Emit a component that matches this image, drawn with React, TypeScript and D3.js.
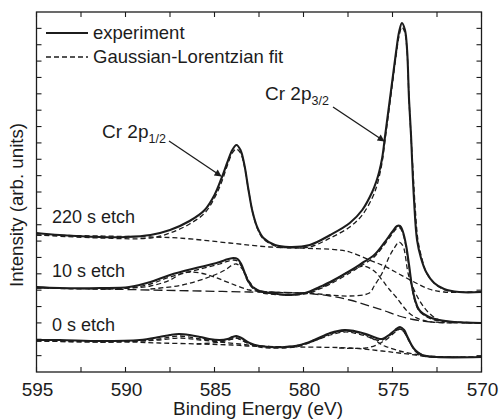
import React from 'react';
import * as d3 from 'd3';

type Pt = [number, number];

// ---------- data (binding energy eV, intensity arb. units) ----------
const exp220: Pt[] = [
  [595.0, 139], [593.7, 137], [591.4, 135], [590.0, 135], [588.6, 137], [587.5, 142], [586.4, 151],
  [585.55, 162], [585.0, 177], [584.6, 194], [584.27, 210], [584.0, 222], [583.77, 227], [583.54, 222],
  [583.32, 207], [583.09, 182], [582.86, 160], [582.58, 144], [582.25, 134], [581.6, 127], [580.8, 125],
  [579.65, 127], [578.5, 137], [577.4, 149], [576.7, 162], [576.14, 180], [575.9, 191], [575.75, 200],
  [575.58, 214], [575.41, 237], [575.24, 260], [575.02, 290], [574.8, 320], [574.63, 340], [574.47, 349],
  [574.3, 342], [574.18, 322], [574.07, 272], [573.96, 237], [573.9, 212], [573.79, 172], [573.62, 132],
  [573.4, 114], [573.11, 100], [572.66, 89], [572.1, 83], [571.26, 80], [570.0, 80],
];
const fit220: Pt[] = [
  [595.0, 137], [591.4, 134], [588.6, 134], [587.5, 139], [586.4, 148], [585.55, 159], [585.0, 174],
  [584.6, 190], [584.27, 207], [584.0, 219], [583.77, 223], [583.54, 219], [583.32, 206], [583.09, 182],
  [582.86, 160], [582.58, 143], [582.25, 133], [581.6, 126], [580.8, 124], [579.65, 125], [578.5, 134],
  [577.4, 145], [576.7, 157], [576.14, 174], [575.9, 185], [575.75, 195], [575.58, 210], [575.41, 233],
  [575.24, 256], [575.02, 286], [574.8, 316], [574.63, 336], [574.47, 345], [574.3, 339], [574.18, 320],
  [574.07, 272], [573.96, 236], [573.85, 202], [573.73, 166], [573.57, 132], [573.34, 113], [573.06, 98],
  [572.6, 88], [572.05, 82], [571.26, 80], [570.0, 80],
];
const bg220: Pt[] = [
  [595.0, 137], [591.4, 136], [588.6, 135], [587.0, 134], [584.15, 129], [581.9, 125], [580.2, 124],
  [578.0, 122], [577.4, 120], [576.3, 112], [575.47, 106], [574.63, 98], [573.79, 90], [572.95, 83],
  [572.1, 80], [570.0, 80],
];

const exp10: Pt[] = [
  [595.0, 85], [593.7, 84], [591.4, 84], [589.8, 85], [588.6, 90], [587.5, 97], [585.8, 105], [584.7, 110],
  [584.4, 112], [583.95, 114], [583.7, 113], [583.5, 108], [583.3, 99], [583.14, 92], [582.86, 85],
  [582.47, 81], [581.9, 79], [580.8, 77], [580.2, 78], [579.65, 80.5], [579.1, 85], [578.5, 90],
  [577.4, 101], [576.7, 109], [576.03, 117], [575.47, 129], [575.02, 140], [574.74, 146], [574.58, 146],
  [574.41, 140], [574.24, 127], [574.07, 107], [573.9, 85], [573.73, 72], [573.5, 62], [572.95, 55],
  [572.38, 52], [571.54, 50], [570.0, 49],
];
const fit10: Pt[] = [
  [595.0, 84], [591.4, 83], [589.8, 84], [588.6, 88], [587.5, 95], [585.8, 103], [584.7, 108],
  [584.4, 110], [583.95, 112], [583.7, 111], [583.5, 106], [583.3, 98], [583.14, 91], [582.86, 84],
  [582.47, 80], [581.9, 78], [580.8, 77], [580.2, 77.5], [579.65, 79], [579.1, 83], [578.5, 88],
  [577.4, 99], [576.7, 107], [576.03, 115], [575.47, 127], [575.02, 138], [574.74, 144], [574.58, 144],
  [574.41, 138], [574.24, 125], [574.07, 105], [573.9, 84], [573.73, 70], [573.5, 61], [572.95, 54],
  [572.38, 51], [571.54, 50], [570.0, 49],
];
const bg10: Pt[] = [
  [595.0, 84], [591.4, 83], [588.6, 82], [585.8, 81], [583.03, 80], [580.2, 79], [578.5, 76], [577.4, 72],
  [576.3, 66], [575.58, 62], [574.63, 56], [573.68, 52], [572.78, 50], [570.0, 49],
];
const c1_10: Pt[] = [
  [591.4, 83], [589.8, 84], [588.6, 86], [587.5, 92], [586.8, 99], [586.4, 100], [585.8, 99], [585.0, 95],
  [584.15, 89], [583.03, 82], [581.9, 80], [580.2, 79],
];
const c2_10: Pt[] = [
  [588.6, 83], [586.8, 87], [585.3, 95], [584.4, 102], [584.0, 107], [583.77, 108], [583.54, 105],
  [583.32, 100], [583.03, 90], [582.58, 82], [581.9, 80], [580.2, 79],
];
const c3_10: Pt[] = [
  [580.2, 79], [579.65, 80], [578.5, 89], [577.7, 98], [576.87, 105], [576.6, 106], [576.03, 101],
  [575.58, 92], [575.24, 84], [574.8, 75], [574.07, 59], [573.5, 53], [572.78, 50], [571.5, 49],
];
const c4_10: Pt[] = [
  [579.65, 79], [578.5, 77], [577.4, 76], [576.3, 79], [576.03, 86], [575.58, 99], [575.19, 115],
  [574.9, 124], [574.63, 130], [574.41, 126], [574.07, 95], [573.5, 72], [572.95, 59], [572.38, 52],
  [571.54, 50], [570.5, 49],
];

const exp0: Pt[] = [
  [595.0, 32], [593.7, 32], [591.4, 31], [589.2, 32], [588.1, 35], [587.5, 37], [587.0, 38], [586.4, 37],
  [585.8, 35], [585.3, 33], [584.7, 32], [584.27, 33], [584.0, 35], [583.77, 36], [583.49, 34], [583.03, 29],
  [582.47, 26], [581.9, 25], [581.07, 25], [580.2, 27], [579.4, 32], [578.5, 39], [577.7, 42], [577.15, 41],
  [576.5, 38], [575.9, 34], [575.58, 33], [575.19, 37], [574.85, 42], [574.58, 45], [574.35, 42],
  [574.18, 36], [573.96, 28], [573.73, 22], [573.34, 17], [572.55, 15], [570.0, 15],
];
const fit0: Pt[] = [
  [595.0, 31], [591.4, 30], [589.2, 31], [588.1, 33], [587.0, 36], [585.8, 33], [584.7, 31], [584.0, 33],
  [583.77, 34], [583.49, 32], [583.03, 28], [582.47, 25], [581.9, 24], [581.07, 24], [580.2, 26],
  [579.4, 31], [578.5, 37], [577.7, 40], [577.15, 39], [576.5, 36], [575.9, 32], [575.58, 32],
  [575.19, 36], [574.85, 41], [574.58, 43], [574.35, 40], [574.07, 31], [573.73, 21], [573.3, 16],
  [572.5, 15], [570.0, 15],
];
const bg0: Pt[] = [
  [595.0, 31], [591.4, 30], [589.8, 30], [588.1, 29], [585.8, 28], [584.0, 27], [583.03, 26], [580.2, 25],
  [577.4, 24], [575.58, 21], [574.63, 19], [573.68, 17], [572.78, 15], [570.0, 15],
];
const c1_0: Pt[] = [
  [591.4, 30], [589.2, 31], [588.1, 32], [587.0, 34], [585.8, 32], [584.7, 30], [583.6, 28], [582.5, 26],
  [581.0, 25],
];
const c2_0: Pt[] = [
  [586.0, 28], [584.7, 30], [584.0, 33], [583.77, 34], [583.4, 31], [583.0, 28], [582.5, 26], [581.5, 25],
];
const c3_0: Pt[] = [
  [581.0, 25], [580.2, 27], [579.4, 31], [578.5, 38], [577.7, 41], [577.15, 40], [576.5, 37], [575.9, 31],
  [575.58, 27], [575.3, 25], [574.6, 21], [573.8, 18], [573.0, 16], [571.5, 15],
];
const c4_0: Pt[] = [
  [578.0, 24], [576.5, 24], [575.9, 27], [575.58, 30], [575.3, 33], [574.85, 40], [574.58, 43],
  [574.35, 40], [574.07, 31], [573.73, 22], [573.3, 17], [572.5, 15], [571.0, 15],
];

const xLabelTicks = [595, 590, 585, 580, 575, 570];
const xMinorTicks = [595, 592.5, 590, 587.5, 585, 582.5, 580, 577.5, 575, 572.5, 570];
const legendLabels = ['experiment', 'Gaussian-Lorentzian fit'];
const seriesLabels = ['220 s etch', '10 s etch', '0 s etch'];
const seriesLabelY = [149, 95, 41];
const xTitle = 'Binding Energy (eV)';
const yTitle = 'Intensity (arb. units)';

// ---------- layout ----------
const W = 500;
const H = 420;
const L = 36.5;
const R = 481.5;
const T = 12;
const B = 372;
const FONT = '"Liberation Sans", Arial, Helvetica, sans-serif';
const INK = '#1c1c1c';

export default function App() {
  const x = d3.scaleLinear().domain([595, 570]).range([L, R]);
  const y = d3.scaleLinear().domain([0, 360]).range([B, T]);
  const line = d3
    .line<Pt>()
    .x((d) => x(d[0]))
    .y((d) => y(d[1]))
    .curve(d3.curveCatmullRom.alpha(0.5));
  const yTicks = d3.range(1, 22).map((i) => (i * 360) / 22);

  const dashed = (d: Pt[], key: string, dash = '5,3') => (
    <path key={key} d={line(d) || ''} fill="none" stroke={INK} strokeWidth={1.3} strokeDasharray={dash} />
  );
  const solid = (d: Pt[], key: string) => (
    <path key={key} d={line(d) || ''} fill="none" stroke={INK} strokeWidth={2.1} strokeLinejoin="round" />
  );

  return (
    <svg width={W} height={H} style={{ position: 'absolute', left: 0, top: 0, background: '#fff' }} fontFamily={FONT}>
      <defs>
        <marker id="ah" viewBox="0 0 10 10" refX="9" refY="5" markerWidth="9" markerHeight="7" orient="auto" markerUnits="userSpaceOnUse">
          <path d="M0,0 L10,5 L0,10 z" fill={INK} />
        </marker>
      </defs>
      <rect x={0} y={0} width={W} height={H} fill="#fff" />

      {/* fits, components, backgrounds */}
      {dashed(bg220, 'bg220')}
      {dashed(fit220, 'fit220')}
      {dashed(bg10, 'bg10', '9,4')}
      {dashed(c1_10, 'c1_10')}
      {dashed(c2_10, 'c2_10')}
      {dashed(c3_10, 'c3_10')}
      {dashed(c4_10, 'c4_10')}
      {dashed(fit10, 'fit10')}
      {dashed(bg0, 'bg0')}
      {dashed(c1_0, 'c1_0')}
      {dashed(c2_0, 'c2_0')}
      {dashed(c3_0, 'c3_0')}
      {dashed(c4_0, 'c4_0')}
      {dashed(fit0, 'fit0')}

      {/* experiments */}
      {solid(exp220, 'e220')}
      {solid(exp10, 'e10')}
      {solid(exp0, 'e0')}

      {/* frame */}
      <rect x={L} y={T} width={R - L} height={B - T} fill="none" stroke={INK} strokeWidth={1.3} />
      {xMinorTicks.map((t) => (
        <g key={'xt' + t}>
          <line x1={x(t)} x2={x(t)} y1={B} y2={B - 5} stroke={INK} strokeWidth={1.1} />
          <line x1={x(t)} x2={x(t)} y1={T} y2={T + 5} stroke={INK} strokeWidth={1.1} />
        </g>
      ))}
      {yTicks.map((t) => (
        <g key={'yt' + t}>
          <line x1={L} x2={L + 5} y1={y(t)} y2={y(t)} stroke={INK} strokeWidth={1.1} />
          <line x1={R} x2={R - 5} y1={y(t)} y2={y(t)} stroke={INK} strokeWidth={1.1} />
        </g>
      ))}
      {xLabelTicks.map((t) => (
        <text key={'xl' + t} x={x(t) + 1} y={396} fontSize={19} textAnchor="middle" fill={INK}>
          {t}
        </text>
      ))}
      <text x={258} y={415} fontSize={19} textAnchor="middle" fill={INK}>
        {xTitle}
      </text>
      <text transform="translate(23,205) rotate(-90)" fontSize={18.7} textAnchor="middle" fill={INK}>
        {yTitle}
      </text>

      {/* legend */}
      <line x1={46} x2={88} y1={33} y2={33} stroke={INK} strokeWidth={2.1} />
      <text x={93} y={39} fontSize={18.5} fill={INK}>{legendLabels[0]}</text>
      <line x1={46} x2={88} y1={57} y2={57} stroke={INK} strokeWidth={1.3} strokeDasharray="5,3" />
      <text x={93} y={63} fontSize={18.5} fill={INK}>{legendLabels[1]}</text>

      {/* series labels */}
      {seriesLabels.map((s, i) => (
        <text key={s} x={52} y={y(seriesLabelY[i])} fontSize={18} fill={INK}>
          {s}
        </text>
      ))}

      {/* peak annotations */}
      <text x={102} y={138} fontSize={19} fill={INK}>
        Cr 2p<tspan fontSize={12.5} dy={5}>1/2</tspan>
      </text>
      <line x1={169} y1={141} x2={221} y2={176} stroke={INK} strokeWidth={1.3} markerEnd="url(#ah)" />
      <text x={265} y={100} fontSize={19} fill={INK}>
        Cr 2p<tspan fontSize={12.5} dy={5}>3/2</tspan>
      </text>
      <line x1={333} y1={107} x2={384} y2={141} stroke={INK} strokeWidth={1.3} markerEnd="url(#ah)" />
    </svg>
  );
}
